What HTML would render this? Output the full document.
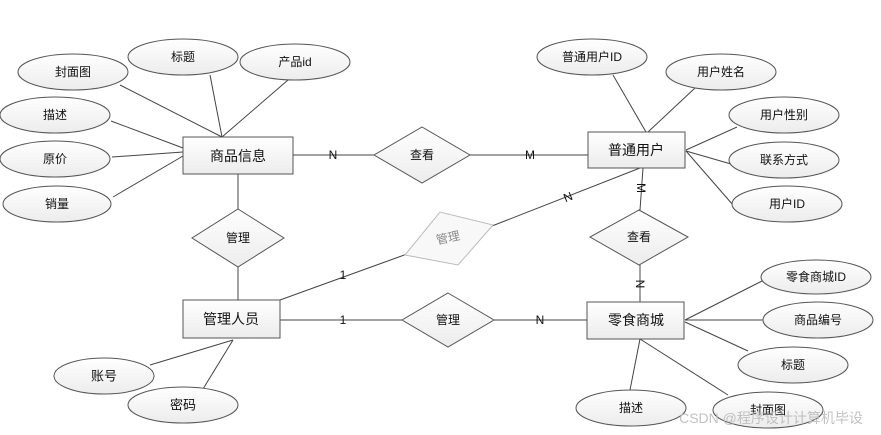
<!DOCTYPE html>
<html><head><meta charset="utf-8"><style>
html,body{margin:0;padding:0;background:#fff;}
svg{display:block;}
text{font-family:"Liberation Sans","Noto Sans CJK SC",sans-serif;fill:#111;text-anchor:middle;dominant-baseline:central;}
</style></head><body>
<svg width="881" height="435" viewBox="0 0 881 435" xmlns="http://www.w3.org/2000/svg">
<defs>
<linearGradient id="g" x1="0" y1="0" x2="0" y2="1"><stop offset="0" stop-color="#fff"/><stop offset="1" stop-color="#ececec"/></linearGradient>
</defs>
<g stroke="#444" stroke-width="1" fill="none">
<line x1="120" y1="85" x2="222" y2="137"/>
<line x1="210" y1="75" x2="222" y2="137"/>
<line x1="288" y1="80" x2="222" y2="137"/>
<line x1="111" y1="121" x2="183" y2="148"/>
<line x1="112" y1="157" x2="183" y2="152"/>
<line x1="113" y1="197" x2="183" y2="156"/>
<line x1="238" y1="174" x2="238" y2="209"/>
<line x1="238" y1="267" x2="238" y2="300"/>
<line x1="233" y1="340" x2="150" y2="365"/>
<line x1="233" y1="340" x2="203" y2="389"/>
<line x1="293" y1="155" x2="374" y2="155"/>
<line x1="470" y1="155" x2="588" y2="155"/>
<line x1="613" y1="75" x2="646" y2="132"/>
<line x1="695" y1="88" x2="648" y2="132"/>
<line x1="737" y1="127" x2="686" y2="150"/>
<line x1="731" y1="164" x2="686" y2="151"/>
<line x1="733" y1="205" x2="686" y2="151"/>
<line x1="643" y1="168" x2="640" y2="210"/>
<line x1="640" y1="265" x2="640" y2="302"/>
<line x1="280" y1="320" x2="402" y2="320"/>
<line x1="494" y1="320" x2="587" y2="320"/>
<line x1="280" y1="300" x2="407" y2="254"/>
<line x1="492" y1="226" x2="640" y2="168"/>
<line x1="762" y1="281" x2="685" y2="320"/>
<line x1="763" y1="320" x2="685" y2="320"/>
<line x1="748" y1="351" x2="685" y2="322"/>
<line x1="630" y1="390" x2="640" y2="339"/>
<line x1="728" y1="395" x2="640" y2="339"/>
</g>
<g fill="url(#g)" stroke="#555">
<ellipse cx="73" cy="72" rx="55" ry="18"/>
<ellipse cx="183" cy="57" rx="55" ry="18"/>
<ellipse cx="295" cy="62" rx="55" ry="18"/>
<ellipse cx="55" cy="115" rx="55" ry="18"/>
<ellipse cx="55" cy="159" rx="55" ry="18"/>
<ellipse cx="57" cy="204" rx="54" ry="18"/>
<ellipse cx="104" cy="376" rx="50" ry="18"/>
<ellipse cx="183" cy="405" rx="55" ry="18"/>
<ellipse cx="592" cy="57" rx="55" ry="18"/>
<ellipse cx="721" cy="72" rx="55" ry="18"/>
<ellipse cx="784" cy="115" rx="55" ry="18"/>
<ellipse cx="784" cy="160" rx="55" ry="18"/>
<ellipse cx="787" cy="204" rx="55" ry="18"/>
<ellipse cx="816" cy="277" rx="55" ry="17"/>
<ellipse cx="818" cy="320" rx="55" ry="18"/>
<ellipse cx="793" cy="365" rx="55" ry="18"/>
<ellipse cx="631" cy="408" rx="55" ry="18"/>
<ellipse cx="768" cy="410" rx="55" ry="18"/>
<rect x="183" y="137" width="110" height="37"/>
<rect x="183" y="300" width="97" height="38"/>
<rect x="588" y="132" width="97" height="36"/>
<rect x="587" y="302" width="97" height="37"/>
<polygon points="238,209 284,238 238,267 192,238"/>
<polygon points="422,127 470,155 422,183 374,155"/>
<polygon points="639,210 688,237 639,265 590,237"/>
<polygon points="448,293 494,320 448,347 402,320"/>
</g>
<polygon points="405,255 440,212 493,225 458,265" fill="#f8f8f8" stroke="#bbb"/>
<g font-size="12">
<text x="73" y="72">封面图</text><text x="183" y="57">标题</text><text x="295" y="62">产品id</text>
<text x="55" y="115">描述</text><text x="55" y="159">原价</text><text x="57" y="204">销量</text>
<text x="104" y="376" font-size="13">账号</text><text x="183" y="405" font-size="13">密码</text>
<text x="592" y="57">普通用户ID</text><text x="721" y="72">用户姓名</text><text x="784" y="115">用户性别</text>
<text x="784" y="160">联系方式</text><text x="787" y="204">用户ID</text>
<text x="816" y="277">零食商城ID</text><text x="818" y="320">商品编号</text><text x="793" y="365">标题</text>
<text x="631" y="408">描述</text><text x="768" y="410">封面图</text>
<text x="238" y="238">管理</text><text x="422" y="155">查看</text><text x="639" y="237">查看</text><text x="448" y="320">管理</text>
<text x="448" y="238" style="fill:#888" transform="rotate(-12 448 238)">管理</text>
<text x="333" y="155">N</text><text x="530" y="155">M</text>
<text x="343" y="320">1</text><text x="540" y="320">N</text>
<text x="343" y="275">1</text><text x="568" y="197" transform="rotate(-22 568 197)">N</text>
<text x="641" y="188" transform="rotate(90 641 188)">M</text>
<text x="640" y="284" transform="rotate(90 640 284)">N</text>
</g>
<g font-size="14">
<text x="238" y="156">商品信息</text><text x="231" y="319">管理人员</text>
<text x="636" y="150">普通用户</text><text x="636" y="320">零食商城</text>
</g>
<text x="771" y="418" font-size="14" style="fill:#bbb;opacity:0.9">CSDN @程序设计计算机毕设</text>
</svg>
</body></html>
